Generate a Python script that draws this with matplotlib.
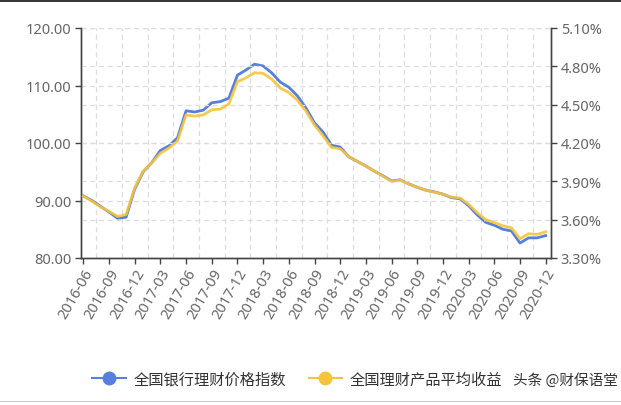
import matplotlib
matplotlib.use("Agg")
import matplotlib.pyplot as plt
from matplotlib.lines import Line2D
import numpy as np

plt.rcParams['font.family'] = ['Noto Sans', 'Noto Sans CJK SC', 'DejaVu Sans']

months = [f"{y}-{m:02d}" for y in range(2016, 2021) for m in range(1, 13)]
months = months[months.index("2016-06"):months.index("2020-12") + 1]

price_index = [90.8, 90.0, 89.0, 88.0, 86.9, 87.1, 92.0, 95.0, 96.6, 98.7,
               99.5, 100.9, 105.6, 105.4, 105.7, 107.0, 107.2, 107.8, 111.8, 112.7,
               113.7, 113.4, 112.2, 110.6, 109.7, 108.2, 106.1, 103.5, 101.9, 99.6,
               99.3, 97.6, 96.8, 96.0, 95.1, 94.3, 93.4, 93.6, 92.9, 92.3,
               91.8, 91.5, 91.1, 90.5, 90.3, 89.1, 87.5, 86.2, 85.7, 85.0,
               84.7, 82.6, 83.5, 83.5, 83.9]

avg_yield = [3.785, 3.745, 3.70, 3.665, 3.625, 3.64, 3.85, 3.98, 4.045, 4.12,
             4.16, 4.215, 4.42, 4.41, 4.42, 4.46, 4.465, 4.505, 4.68, 4.71,
             4.75, 4.745, 4.70, 4.63, 4.595, 4.535, 4.45, 4.34, 4.255, 4.165,
             4.155, 4.095, 4.055, 4.02, 3.98, 3.94, 3.90, 3.91, 3.88, 3.855,
             3.83, 3.815, 3.80, 3.777, 3.769, 3.72, 3.655, 3.60, 3.577, 3.552,
             3.537, 3.45, 3.49, 3.485, 3.505]

left_ticks = [80, 90, 100, 110, 120]
right_ticks = [3.30, 3.60, 3.90, 4.20, 4.50, 4.80, 5.10]

series_names = ["全国银行理财价格指数", "全国理财产品平均收益"]
watermark = "头条 @财保语堂"

BLUE = "#5580dd"
YELLOW = "#f5c43e"
W, H = 621, 406
fig = plt.figure(figsize=(W / 100, H / 100), dpi=100)
ax = fig.add_axes([81 / W, 1 - 259 / H, (551 - 81) / W, (259 - 29) / H])
ax2 = ax.twinx()

x = np.arange(len(months))
ax.plot(x, price_index, color=BLUE, lw=2.0, zorder=3)
ax2.plot(x, avg_yield, color=YELLOW, lw=2.0, zorder=3, alpha=0.9)

ax.set_xlim(-0.27, len(months) - 1 + 0.62)
ax.set_ylim(80, 120)
ax2.set_ylim(3.30, 5.10)

ax.set_yticks(left_ticks)
ax.set_yticklabels([f"{v:.2f}" for v in left_ticks])
ax2.set_yticks(right_ticks)
ax2.set_yticklabels([f"{v:.2f}%" for v in right_ticks])

tick_idx = list(range(0, len(months), 3))
ax.set_xticks(tick_idx)
ax.set_xticklabels([months[i] for i in tick_idx], rotation=60, ha='right',
                   rotation_mode='anchor')

grid_kw = dict(color='#dddddd', lw=0.9, ls=(0, (4, 3)), zorder=0)
for v in left_ticks[1:]:
    ax.axhline(v, **grid_kw)
for v in right_ticks[1:]:
    ax2.axhline(v, **grid_kw)
for i in np.arange(1.5, len(months) - 1, 3):
    ax.axvline(i, **grid_kw)

for a in (ax, ax2):
    a.spines['top'].set_visible(False)
    for s in ('left', 'right', 'bottom'):
        a.spines[s].set_color('#444444')
        a.spines[s].set_linewidth(1.0)
    a.tick_params(axis='both', colors='#444444', length=4, width=1,
                  labelcolor='#666666', labelsize=10.5)
ax.tick_params(axis='x', labelsize=10.5, pad=2)
ax.tick_params(axis='y', pad=3)
ax2.tick_params(axis='y', pad=3)

handles = [Line2D([0], [0], color=BLUE, lw=1.5, marker='o', markersize=9,
                  markerfacecolor=BLUE, markeredgecolor=BLUE),
           Line2D([0], [0], color=YELLOW, lw=1.5, marker='o', markersize=9,
                  markerfacecolor=YELLOW, markeredgecolor=YELLOW)]
fig.legend(handles, series_names, loc='center left',
           bbox_to_anchor=(92 / W, 1 - 380 / H),
           ncol=2, frameon=False, handlelength=2.2, handletextpad=0.5,
           columnspacing=1.5, borderpad=0, borderaxespad=0,
           prop={'family': ['Noto Sans CJK SC'], 'size': 11},
           labelcolor='#333333')
fig.text(618 / W, 1 - 380 / H, watermark, ha='right', va='center',
         fontsize=10.5, color='#333333', family=['Noto Sans CJK SC', 'DejaVu Sans'])

fig.add_artist(Line2D([0, 1], [1 - 2 / H, 1 - 2 / H], color='#111111', lw=1.2,
                      transform=fig.transFigure))
fig.add_artist(Line2D([0, 1], [1 - 402 / H, 1 - 402 / H], color='#cccccc', lw=0.8,
                      transform=fig.transFigure))

fig.savefig("out.png", dpi=100)
